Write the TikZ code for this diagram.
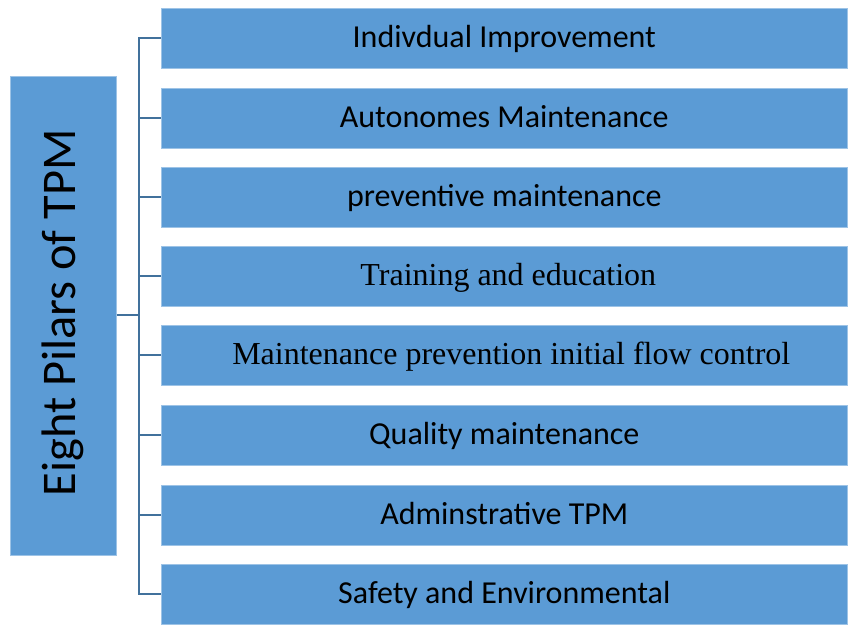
\documentclass[tikz,border=0pt]{standalone}
\usepackage{fontspec}
\setmainfont{Carlito}
\newfontfamily\timesf{Liberation Serif}
\begin{document}
\begin{tikzpicture}[x=1pt,y=-1pt,
  pillar/.style={fill=boxblue,draw=boxblue!60!white,line width=0.6pt,minimum width=686pt,minimum height=60pt,anchor=north west,inner sep=0pt,text height=24pt,text depth=6pt,font=\fontsize{32}{36}\selectfont},
  serifpillar/.style={pillar,font=\timesf\fontsize{32}{36}\selectfont},
  link/.style={draw=linkblue,line width=2.2pt}]
\definecolor{boxblue}{HTML}{5B9BD5}
\definecolor{linkblue}{HTML}{41719C}
\useasboundingbox (0,0) rectangle (853,624);
\node[fill=boxblue,draw=boxblue!60!white,line width=0.6pt,minimum width=106pt,minimum height=479pt,anchor=north west,inner sep=0pt] (L) at (10,76) {};
\node[rotate=90,font=\fontsize{48.4}{52}\selectfont] (T) at ([yshift=3pt]L.center) {Eight Pilars of TPM};
\node[pillar] (b1) at (161,8) {Indivdual Improvement};
\node[pillar] (b2) at (161,88) {Autonomes Maintenance};
\node[pillar] (b3) at (161,167) {preventive maintenance};
\node[serifpillar] (b4) at (161,246) {\hspace*{8pt}Training and education};
\node[serifpillar] (b5) at (161,325) {\hspace*{14pt}Maintenance prevention initial flow control};
\node[pillar] (b6) at (161,405) {Quality maintenance};
\node[pillar] (b7) at (161,485) {Adminstrative TPM};
\node[pillar] (b8) at (161,564) {Safety and Environmental};
\coordinate (bus) at (139,0);
\draw[link] (b1.west) -| (bus |- b8.west) -- (b8.west);
\foreach \i in {2,...,7} \draw[link] (bus |- b\i.west) -- (b\i.west);
\draw[link] (L.east |- 0,315) -- (bus |- 0,315);
\end{tikzpicture}
\end{document}
